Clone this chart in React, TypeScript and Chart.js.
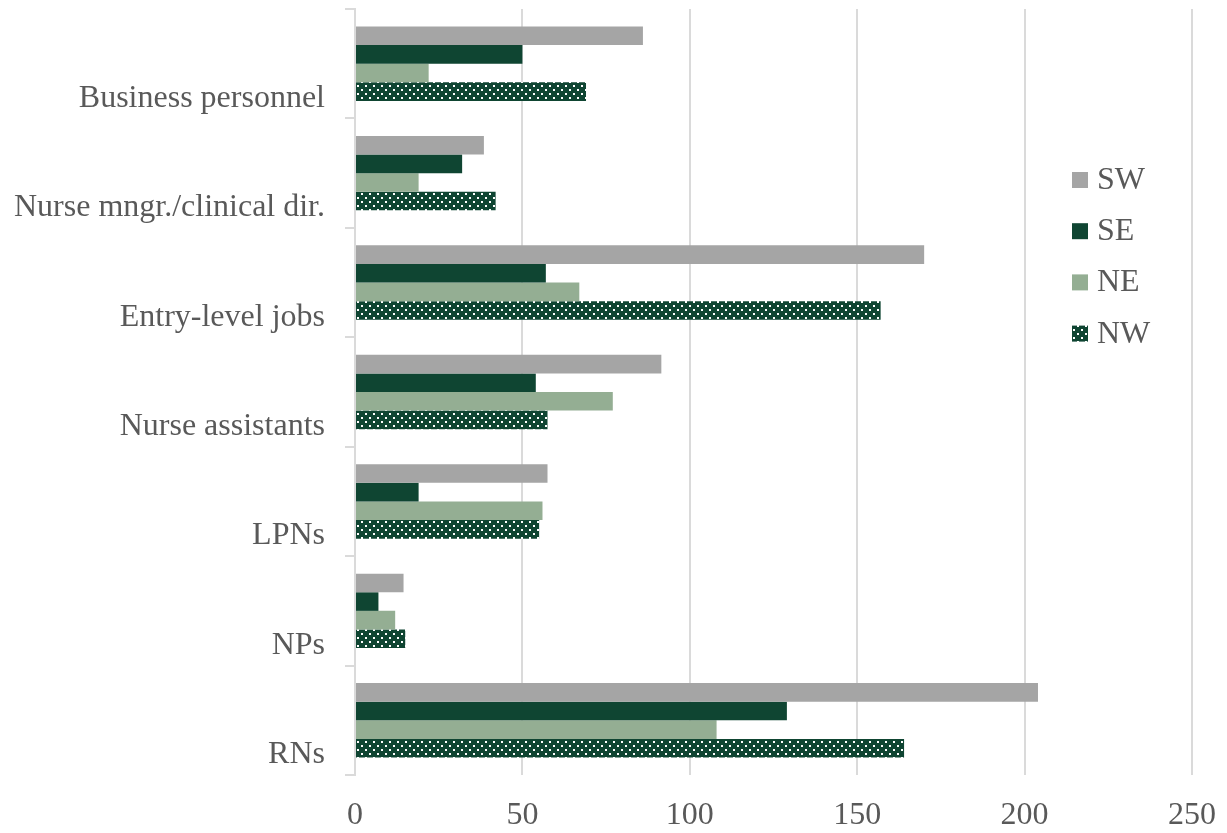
import React, { useEffect, useRef } from 'react';
import { Chart, registerables } from 'chart.js';

Chart.register(...registerables);

// ---- data ----
const categories = [
  'Business personnel',
  'Nurse mngr./clinical dir.',
  'Entry-level jobs',
  'Nurse assistants',
  'LPNs',
  'NPs',
  'RNs',
];
const seriesNames = ['SW', 'SE', 'NE', 'NW'];
const swValues = [86, 38.5, 170, 91.5, 57.5, 14.5, 204];
const seValues = [50, 32, 57, 54, 19, 7, 129];
const neValues = [22, 19, 67, 77, 56, 12, 108];
const nwValues = [69, 42, 157, 57.5, 55, 15, 164];
const xMin = 0;
const xMax = 250;
const xStep = 50;

// ---- styles ----
const FONT = "'Liberation Serif', 'Times New Roman', serif";
const TEXT = '#595959';
const GRID = '#DADADA';
const C_SW = '#A5A5A5';
const C_SE = '#0F4532';
const C_NE = '#94AE93';

function makeDotPattern(ctx: CanvasRenderingContext2D): CanvasPattern | string {
  const c = document.createElement('canvas');
  c.width = 8;
  c.height = 8;
  const g = c.getContext('2d');
  if (!g) return C_SE;
  g.fillStyle = C_SE;
  g.fillRect(0, 0, 8, 8);
  g.fillStyle = '#FFFFFF';
  g.fillRect(1, 1, 2, 2);
  g.fillRect(5, 5, 2, 2);
  return ctx.createPattern(c, 'repeat') || C_SE;
}

export default function App() {
  const ref = useRef<HTMLCanvasElement | null>(null);

  useEffect(() => {
    const canvas = ref.current;
    if (!canvas) return;
    const ctx = canvas.getContext('2d');
    if (!ctx) return;
    const pattern = makeDotPattern(ctx);
    const colors: any[] = [C_SW, C_SE, C_NE, pattern];
    const values = [swValues, seValues, neValues, nwValues];

    const axisDecor = {
      id: 'axisDecor',
      afterDatasetsDraw(chart: any) {
        const { ctx: c, chartArea } = chart;
        const n = categories.length;
        const band = (chartArea.bottom - chartArea.top) / n;
        c.save();
        c.strokeStyle = GRID;
        c.lineWidth = 2;
        for (let i = 0; i <= n; i++) {
          const y = Math.round(chartArea.top + i * band);
          c.beginPath();
          c.moveTo(chartArea.left - 10, y);
          c.lineTo(chartArea.left, y);
          c.stroke();
        }
        c.restore();
      },
    };

    const legendPlugin = {
      id: 'customLegend',
      afterDraw(chart: any) {
        const c = chart.ctx;
        c.save();
        c.font = `32px ${FONT}`;
        c.textBaseline = 'alphabetic';
        c.textAlign = 'left';
        seriesNames.forEach((name, i) => {
          const top = 172 + i * 51.2;
          c.fillStyle = colors[i];
          c.fillRect(1072, top, 16, 16);
          c.fillStyle = TEXT;
          c.fillText(name, 1097, top + 17);
        });
        c.restore();
      },
    };

    const chart = new Chart(canvas, {
      type: 'bar',
      data: {
        labels: categories.map((c) => ['', c]),
        datasets: seriesNames.map((name, i) => ({
          label: name,
          data: values[i],
          backgroundColor: colors[i],
          borderWidth: 0,
          categoryPercentage: 0.68,
          barPercentage: 1,
        })),
      },
      options: {
        indexAxis: 'y',
        responsive: false,
        devicePixelRatio: 1,
        animation: false,
        layout: { padding: { top: 9, right: 35, left: 0, bottom: 0 } },
        plugins: {
          legend: { display: false },
          tooltip: { enabled: false },
          title: { display: false },
        },
        scales: {
          x: {
            type: 'linear',
            min: xMin,
            max: xMax,
            ticks: {
              stepSize: xStep,
              color: TEXT,
              padding: 21,
              font: { family: FONT, size: 32, lineHeight: 1.2 },
            },
            grid: { color: GRID, lineWidth: 2, drawTicks: false },
            border: { display: false },
            afterFit: (s: any) => {
              s.height = 58;
              s.paddingLeft = 0;
              s.paddingRight = 0;
            },
          },
          y: {
            type: 'category',
            ticks: {
              color: TEXT,
              padding: 30,
              autoSkip: false,
              font: { family: FONT, size: 32, lineHeight: 2.16 },
            },
            grid: { display: false, drawTicks: false },
            border: { display: true, color: GRID, width: 2 },
            afterFit: (s: any) => {
              s.width = 355;
              s.paddingTop = 0;
              s.paddingBottom = 0;
            },
          },
        },
      },
      plugins: [axisDecor, legendPlugin],
    } as any);

    return () => chart.destroy();
  }, []);

  return (
    <div style={{ position: 'absolute', left: 0, top: 0, width: 1227, height: 833, background: '#fff' }}>
      <canvas ref={ref} width={1227} height={833} style={{ display: 'block', width: 1227, height: 833 }} />
    </div>
  );
}
